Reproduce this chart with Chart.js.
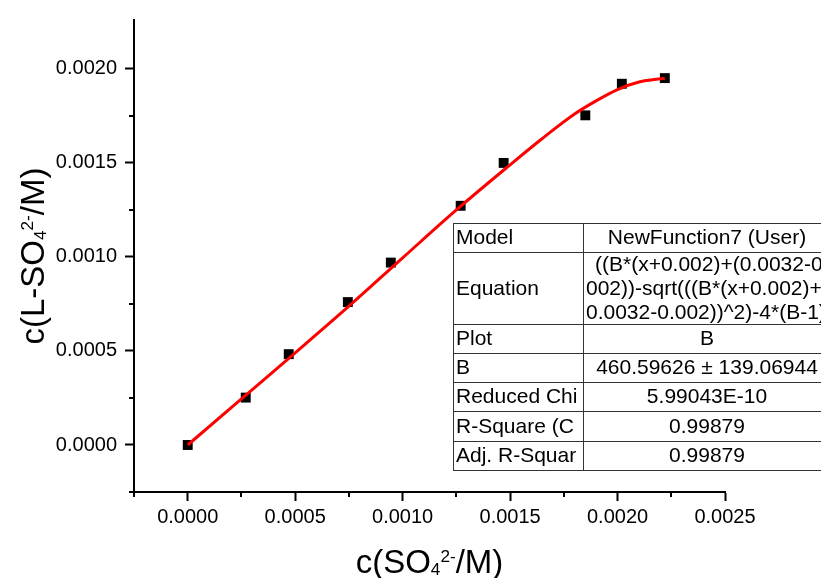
<!DOCTYPE html>
<html>
<head>
<meta charset="utf-8">
<script src="https://cdn.jsdelivr.net/npm/chart.js@4/dist/chart.umd.min.js"></script>
<style>
    body { margin: 0; background: #fff; }
    #wrap { width: 821px; height: 578px; position: relative; }
</style>
</head>
<body>
<div id="wrap"><canvas id="fitChart"></canvas></div>
<script>
// Measured points
const sulfateX = [0, 0.00027, 0.00047, 0.000745, 0.000945, 0.00127, 0.00147, 0.00185, 0.00202, 0.00222];
const complexY = [0, 0.000252, 0.000483, 0.00076, 0.00097, 0.001272, 0.0015, 0.001753, 0.001921, 0.001951];

// Fitted curve
const fitX = [0, 0.00025, 0.0005, 0.00075, 0.001, 0.00125, 0.0015, 0.00165, 0.0018, 0.0019, 0.002, 0.0021, 0.00222];
const fitY = [0, 0.000245, 0.00049, 0.000738, 0.000995, 0.00125, 0.00149, 0.00163, 0.00176, 0.00183, 0.00189, 0.00193, 0.00195];

// Axis ticks
const xTicks = [0, 0.0005, 0.001, 0.0015, 0.002, 0.0025];
const yTicks = [0, 0.0005, 0.001, 0.0015, 0.002];
const xMinor = [-0.00025, 0.00025, 0.00075, 0.00125, 0.00175, 0.00225];
const yMinor = [-0.00025, 0.00025, 0.00075, 0.00125, 0.00175];

// Fit report table
const tableLabels = ['Model', 'Equation', 'Plot', 'B', 'Reduced Chi', 'R-Square (C', 'Adj. R-Squar'];
const tableValues = [
    ['NewFunction7 (User)'],
    ['((B*(x+0.002)+(0.0032-0.002))', '002))-sqrt(((B*(x+0.002)+(', '0.0032-0.002))^2)-4*(B-1)'],
    ['B'],
    ['460.59626 ± 139.06944'],
    ['5.99043E-10'],
    ['0.99879'],
    ['0.99879']
];

const FONT = "Arial, 'Liberation Sans', sans-serif";

// Text with sub/superscript pieces: [text, scale, shift]
const drawRich = (ctx, parts, x, y, size) => {
    let total = 0;
    parts.forEach(p => {
        ctx.font = `${size * p[1]}px ${FONT}`;
        total += ctx.measureText(p[0]).width;
    });
    let cx = x - total / 2;
    parts.forEach(p => {
        ctx.font = `${size * p[1]}px ${FONT}`;
        ctx.fillText(p[0], cx, y + p[2] * size);
        cx += ctx.measureText(p[0]).width;
    });
};

const xTitle = [['c(SO', 1, 0], ['4', 0.52, 0.07], ['2-', 0.52, -0.32], ['/M)', 1, 0]];
const yTitle = [['c(L-SO', 1, 0], ['4', 0.52, 0.07], ['2-', 0.52, -0.32], ['/M)', 1, 0]];

const extrasPlugin = {
    id: 'extras',
    afterDraw(chart) {
        const ctx = chart.ctx;
        const xs = chart.scales.x;
        const ys = chart.scales.y;
        const area = chart.chartArea;

        // minor ticks
        ctx.save();
        ctx.strokeStyle = '#000';
        ctx.lineWidth = 2;
        xMinor.forEach(v => {
            const px = Math.round(xs.getPixelForValue(v));
            ctx.beginPath();
            ctx.moveTo(px, area.bottom);
            ctx.lineTo(px, area.bottom + 5);
            ctx.stroke();
        });
        yMinor.forEach(v => {
            const py = Math.round(ys.getPixelForValue(v));
            ctx.beginPath();
            ctx.moveTo(area.left - 5, py);
            ctx.lineTo(area.left, py);
            ctx.stroke();
        });

        // axis titles
        ctx.fillStyle = '#000';
        ctx.textBaseline = 'alphabetic';
        ctx.textAlign = 'left';
        drawRich(ctx, xTitle, (area.left + area.right) / 2, 573, 33);
        ctx.save();
        ctx.translate(44, (area.top + area.bottom) / 2);
        ctx.rotate(-Math.PI / 2);
        drawRich(ctx, yTitle, 0, 0, 33);
        ctx.restore();

        // table
        const left = 453, mid = 583, right = 831;
        const rows = [223, 252, 324, 353, 382, 411, 441, 470];
        ctx.fillStyle = '#fff';
        ctx.fillRect(left, rows[0], right - left, rows[rows.length - 1] - rows[0]);
        ctx.strokeStyle = '#333';
        ctx.lineWidth = 1;
        ctx.beginPath();
        rows.forEach(r => { ctx.moveTo(left, r + 0.5); ctx.lineTo(right, r + 0.5); });
        [left, mid, right].forEach(c => { ctx.moveTo(c + 0.5, rows[0]); ctx.lineTo(c + 0.5, rows[rows.length - 1]); });
        ctx.stroke();

        ctx.fillStyle = '#000';
        ctx.font = `21px ${FONT}`;
        ctx.textBaseline = 'middle';
        tableLabels.forEach((label, i) => {
            const cy = (rows[i] + rows[i + 1]) / 2 + 1;
            ctx.textAlign = 'left';
            ctx.fillText(label, left + 3, cy);
            const vals = tableValues[i];
            if (vals.length === 1) {
                ctx.textAlign = 'center';
                ctx.fillText(vals[0], (mid + right) / 2, cy);
            } else {
                ctx.save();
                ctx.beginPath();
                ctx.rect(mid + 1, rows[i], right - mid - 1, rows[i + 1] - rows[i]);
                ctx.clip();
                ctx.textAlign = 'left';
                const starts = [595, 586, 586];
                vals.forEach((line, j) => ctx.fillText(line, starts[j], cy + (j - 1) * 24));
                ctx.restore();
            }
        });
        ctx.restore();
    }
};

const axisCommon = {
    type: 'linear',
    min: -0.00025,
    grid: { drawOnChartArea: false, tickLength: 9, tickWidth: 2, tickColor: '#000' },
    border: { color: '#000', width: 2 },
    ticks: {
        color: '#000',
        font: { family: FONT, size: 20 },
        maxRotation: 0,
        callback: (v) => Number(v).toFixed(4)
    }
};

document.addEventListener('DOMContentLoaded', () => {
    const ctx = document.getElementById('fitChart').getContext('2d');
    new Chart(ctx, {
        type: 'scatter',
        data: {
            datasets: [{
                label: 'Fit',
                data: fitX.map((x, i) => ({ x, y: fitY[i] })),
                showLine: true,
                borderColor: '#ff0000',
                borderWidth: 3,
                pointRadius: 0,
                cubicInterpolationMode: 'monotone',
                order: 0
            }, {
                label: 'B',
                data: sulfateX.map((x, i) => ({ x, y: complexY[i] })),
                pointStyle: 'rect',
                pointRadius: 7,
                backgroundColor: '#000',
                borderColor: '#000',
                borderWidth: 0,
                order: 1
            }]
        },
        options: {
            responsive: true,
            maintainAspectRatio: false,
            animation: false,
            layout: { padding: { top: 14, right: 96, left: 0, bottom: 0 } },
            plugins: { legend: { display: false }, tooltip: { enabled: false } },
            scales: {
                x: {
                    ...axisCommon,
                    max: 0.0025,
                    afterBuildTicks: (s) => { s.ticks = xTicks.map(v => ({ value: v })); },
                    afterFit: (s) => { s.height = 86; },
                    ticks: { ...axisCommon.ticks, padding: 4 }
                },
                y: {
                    ...axisCommon,
                    max: 0.00226,
                    afterBuildTicks: (s) => { s.ticks = yTicks.map(v => ({ value: v })); },
                    afterFit: (s) => { s.width = 134; },
                    ticks: { ...axisCommon.ticks, padding: 8 }
                }
            }
        },
        plugins: [extrasPlugin]
    });
});
</script>
</body>
</html>
